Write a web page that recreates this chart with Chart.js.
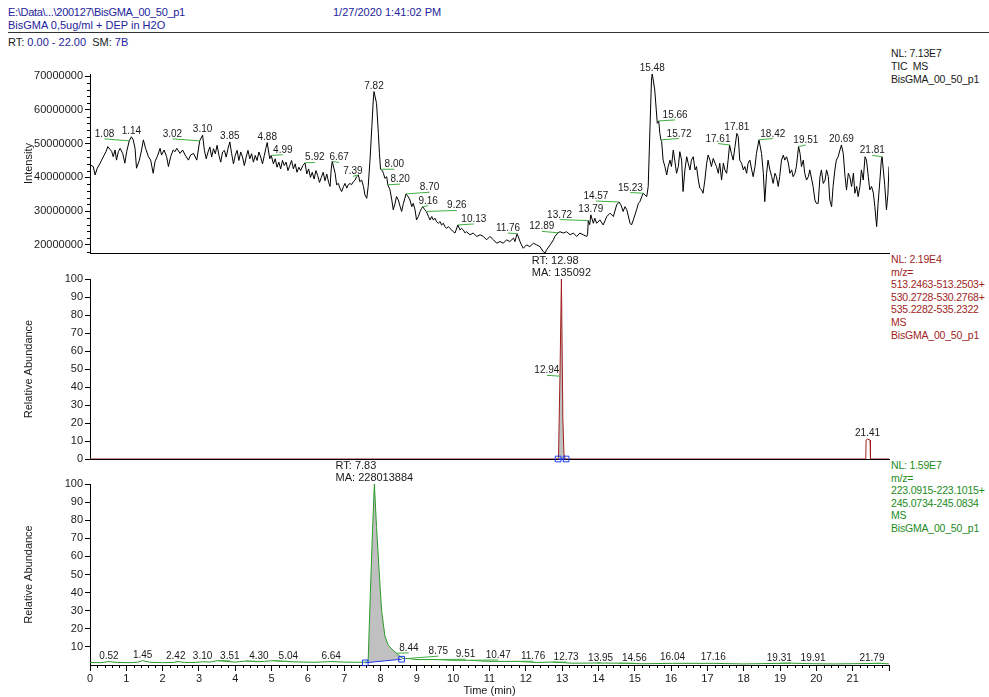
<!DOCTYPE html>
<html>
<head>
<meta charset="utf-8">
<script src="https://cdn.jsdelivr.net/npm/chart.js@4.4.1/dist/chart.umd.min.js"></script>
<style>
  body { margin: 0; background: #fff; font-family: "Liberation Sans", Arial, sans-serif; }
  #wrap { position: relative; width: 989px; height: 697px; overflow: hidden; }
  canvas { position: absolute; left: 0; top: 0; }
  .t { position: absolute; font-size: 11px; line-height: 13px; white-space: pre; }
  .side { font-size: 10.5px; letter-spacing: -0.2px; line-height: 12.6px; }
  .blue { color: #23239b; }
  .red { color: #a01e1e; }
  .green { color: #1c8c1c; }
  .blk { color: #1a1a1a; }
  #rule { position: absolute; left: 8px; top: 32px; width: 981px; border-top: 1px solid #333; }
</style>
</head>
<body>
<div id="wrap">
  <div class="t blue" style="left:8px;top:6px;letter-spacing:-0.3px">E:\Data\...\200127\BisGMA_00_50_p1</div>
  <div class="t blue" style="left:333px;top:6px">1/27/2020 1:41:02 PM</div>
  <div class="t blue" style="left:8px;top:19px">BisGMA 0,5ug/ml + DEP in H2O</div>
  <div id="rule"></div>
  <div class="t blk" style="left:8px;top:36px">RT: <span class="blue">0.00 - 22.00</span>  SM: <span class="blue">7B</span></div>

  <div class="t side blk" style="left:891px;top:47px;line-height:13px">NL: 7.13E7<br>TIC  MS<br>BisGMA_00_50_p1</div>
  <div class="t side red" style="left:891px;top:253px">NL: 2.19E4<br>m/z=<br>513.2463-513.2503+<br>530.2728-530.2768+<br>535.2282-535.2322<br>MS<br>BisGMA_00_50_p1</div>
  <div class="t side green" style="left:891px;top:459px">NL: 1.59E7<br>m/z=<br>223.0915-223.1015+<br>245.0734-245.0834<br>MS<br>BisGMA_00_50_p1</div>

  <canvas id="c1" width="989" height="697"></canvas>
  <canvas id="c2" width="989" height="697"></canvas>
  <canvas id="c3" width="989" height="697"></canvas>
</div>
<script>
// TIC (intensity in millions)
var ticTime = [0.00,0.09,0.14,0.20,0.28,0.32,0.39,0.44,0.49,0.55,0.60,0.64,0.69,0.73,0.78,0.83,0.90,0.96,1.01,1.08,
  1.14,1.19,1.24,1.28,1.36,1.42,1.47,1.53,1.61,1.67,1.74,1.79,1.85,1.93,1.97,2.04,2.11,2.16,2.22,2.29,
  2.34,2.39,2.48,2.55,2.62,2.71,2.77,2.85,2.94,3.02,3.10,3.15,3.20,3.25,3.30,3.35,3.40,3.45,3.50,3.55,
  3.60,3.65,3.70,3.75,3.80,3.85,3.90,3.95,4.00,4.05,4.10,4.15,4.20,4.25,4.30,4.35,4.40,4.45,4.50,4.55,
  4.60,4.65,4.70,4.75,4.80,4.84,4.88,4.92,4.95,4.99,5.05,5.10,5.15,5.20,5.25,5.30,5.35,5.40,5.45,5.50,
  5.55,5.60,5.65,5.70,5.75,5.80,5.86,5.92,5.97,6.02,6.07,6.12,6.17,6.22,6.27,6.32,6.37,6.42,6.47,6.52,
  6.57,6.61,6.64,6.67,6.75,6.79,6.84,6.88,6.93,6.98,7.02,7.07,7.11,7.16,7.20,7.25,7.30,7.34,7.39,7.43,
  7.48,7.53,7.57,7.62,7.66,7.71,7.76,7.80,7.82,7.89,7.94,7.97,8.00,8.05,8.08,8.12,8.17,8.20,8.26,8.31,
  8.35,8.40,8.44,8.49,8.54,8.58,8.63,8.67,8.70,8.76,8.81,8.86,8.90,8.95,8.99,9.04,9.09,9.13,9.16,9.22,
  9.26,9.32,9.36,9.41,9.45,9.50,9.54,9.59,9.64,9.68,9.73,9.77,9.82,9.87,9.91,9.96,10.00,10.05,10.13,10.19,
  10.23,10.28,10.33,10.37,10.46,10.55,10.65,10.74,10.83,10.92,11.01,11.11,11.20,11.29,11.38,11.47,11.56,11.66,11.70,11.76,
  11.79,11.84,11.88,11.93,12.02,12.11,12.21,12.30,12.39,12.48,12.53,12.57,12.67,12.76,12.80,12.89,12.94,13.03,13.12,13.22,
  13.31,13.40,13.49,13.58,13.68,13.70,13.72,13.76,13.79,13.86,13.90,13.95,14.04,14.13,14.23,14.32,14.41,14.50,14.57,14.62,
  14.68,14.73,14.78,14.87,14.91,14.96,15.05,15.10,15.14,15.23,15.28,15.33,15.37,15.42,15.46,15.48,15.55,15.62,15.66,15.69,
  15.72,15.74,15.78,15.83,15.88,15.92,15.97,16.01,16.06,16.10,16.15,16.20,16.24,16.29,16.33,16.38,16.43,16.47,16.52,16.56,
  16.61,16.66,16.70,16.75,16.79,16.84,16.88,16.93,16.98,17.02,17.07,17.11,17.16,17.21,17.25,17.30,17.34,17.39,17.44,17.48,
  17.53,17.57,17.61,17.66,17.71,17.76,17.81,17.85,17.89,17.94,17.99,18.03,18.08,18.12,18.17,18.22,18.26,18.31,18.35,18.42,
  18.49,18.54,18.58,18.63,18.67,18.72,18.77,18.81,18.86,18.90,18.95,18.99,19.04,19.09,19.13,19.18,19.23,19.27,19.32,19.36,
  19.41,19.45,19.51,19.55,19.59,19.64,19.68,19.73,19.78,19.82,19.87,19.91,19.96,20.00,20.05,20.10,20.14,20.19,20.24,20.28,
  20.33,20.37,20.42,20.46,20.51,20.55,20.60,20.65,20.69,20.74,20.79,20.83,20.88,20.92,20.97,21.02,21.06,21.11,21.15,21.20,
  21.24,21.29,21.34,21.38,21.43,21.47,21.52,21.57,21.61,21.66,21.70,21.75,21.79,21.81,21.88,21.93,21.97,22.00];
var ticValue = [43.7,43.2,40.7,42.7,44.2,45.1,46.6,47.6,49.1,48.3,47.6,46.1,48.1,45.1,47.6,48.6,47.1,44.2,47.6,50.8,
  52.0,51.1,48.6,42.7,45.1,48.1,51.1,48.6,46.1,45.1,41.2,44.7,46.1,48.6,46.6,48.1,46.1,43.2,46.1,48.1,
  47.6,48.6,47.1,48.1,46.6,45.1,46.6,47.1,45.1,50.8,52.5,48.0,45.5,47.5,49.0,46.0,48.5,47.0,49.5,46.5,
  44.5,47.5,48.0,46.0,48.5,50.5,47.0,44.0,46.5,48.0,45.0,47.5,46.0,43.5,46.0,48.0,45.5,47.0,44.5,46.5,
  45.0,47.5,46.0,44.0,46.5,48.5,50.3,47.5,45.5,46.5,44.0,45.5,43.0,44.5,42.5,45.0,43.5,44.5,42.0,43.5,
  45.0,42.5,44.0,41.5,43.0,42.0,43.5,44.3,41.0,42.5,40.0,41.5,39.5,42.0,40.5,38.5,40.0,41.5,39.0,41.0,
  38.5,37.3,42.2,44.7,41.2,37.8,38.2,36.8,35.8,37.3,38.2,36.8,37.8,38.2,37.8,38.7,39.2,40.2,40.7,38.7,
  39.2,37.3,34.8,33.8,37.3,45.1,55.0,62.9,65.4,61.9,53.0,47.0,42.4,42.0,41.2,39.7,40.2,37.8,36.3,33.3,
  30.4,32.3,34.3,33.3,31.3,29.9,32.3,33.8,35.1,34.3,33.3,31.3,32.3,30.4,27.4,28.4,29.9,30.8,31.3,30.4,
  29.9,28.4,27.4,28.4,27.4,27.9,26.9,26.4,26.9,25.9,26.4,25.4,24.9,25.4,24.9,24.4,23.9,23.5,25.9,24.4,
  24.9,24.4,23.5,23.9,23.0,23.5,22.5,23.0,22.5,21.5,22.5,21.5,20.5,21.0,20.5,21.5,21.0,22.0,21.0,23.3,
  22.5,21.0,20.0,19.0,20.0,19.5,20.5,20.0,19.5,18.0,17.6,18.5,20.0,21.5,22.5,23.6,23.9,23.5,23.9,23.0,
  23.5,22.5,23.5,23.0,22.5,23.0,27.2,26.0,28.9,26.4,27.9,26.4,27.4,25.9,28.4,29.4,28.4,31.8,32.7,31.8,
  29.9,31.3,30.4,26.4,25.9,27.4,30.4,32.3,32.8,35.3,34.8,34.3,37.3,55.0,68.8,70.7,65.9,56.0,56.7,53.0,
  51.1,50.6,45.1,43.2,40.7,43.2,45.1,43.2,48.1,45.1,41.2,43.2,47.6,45.1,35.8,42.2,46.1,44.2,42.2,45.1,
  46.1,42.2,43.2,39.2,36.8,36.3,35.3,39.2,44.2,46.6,45.1,43.2,45.6,44.2,43.2,41.2,44.2,39.2,44.2,42.2,
  41.2,45.1,49.6,47.1,45.1,49.1,53.0,52.0,45.1,44.2,42.2,43.2,41.2,44.2,45.1,42.2,40.2,43.2,47.1,51.1,
  47.1,41.2,32.8,41.2,45.1,42.2,40.2,38.2,41.2,40.2,37.3,40.2,45.1,46.6,45.1,46.1,44.2,41.2,42.2,40.2,
  41.2,43.2,49.1,47.1,43.2,45.1,41.2,39.2,40.2,42.2,39.5,37.3,33.3,32.3,32.3,40.2,42.2,38.2,39.2,42.2,
  40.2,33.3,31.3,37.3,42.2,45.1,46.1,48.1,49.6,47.1,40.2,36.3,41.2,40.2,37.3,41.2,35.3,37.3,34.3,37.3,
  42.2,39.2,46.1,45.1,40.2,36.3,37.3,35.3,31.3,25.4,32.3,39.2,45.1,46.1,38.0,30.4,35.0,43.2];
var ticYTicks = [20, 30, 40, 50, 60, 70];
var ticYMinor = [18, 22, 24, 26, 28, 32, 34, 36, 38, 42, 44, 46, 48, 52, 54, 56, 58, 62, 64, 66, 68];

// TIC peak labels: retention time, apex intensity, label centre (min), leader end (intensity)
var ticPeakRt = [1.08,1.14,3.02,3.10,3.85,4.88,4.99,5.92,6.67,7.39,7.82,8.00,8.20,8.70,9.16,9.26,10.13,11.76,12.89,13.72,
  13.79,14.57,15.23,15.48,15.66,15.72,17.61,17.81,18.42,19.51,20.69,21.81];
var ticPeakTop = [50.8,52.0,50.8,52.5,50.5,50.3,46.5,44.3,44.7,40.7,65.4,42.4,37.8,35.1,31.3,29.9,25.9,23.3,23.6,27.2,
  28.9,32.7,35.3,70.7,56.7,51.1,49.6,53.0,51.1,49.1,49.6,46.1];
var ticLabelRt = [0.40,1.14,2.27,3.10,3.85,4.88,5.31,6.19,6.86,7.24,7.82,8.38,8.54,9.35,9.31,10.10,10.57,11.51,12.44,12.93,
  13.79,13.93,14.88,15.48,16.11,16.22,17.29,17.81,18.80,19.71,20.69,21.54];
var ticLabelVal = [51.4,52.0,51.4,52.5,50.5,50.3,46.7,44.4,44.4,40.3,65.4,42.4,38.0,35.6,31.6,30.2,26.2,23.5,24.0,27.5,
  28.9,33.0,35.5,70.7,57.0,51.5,50.0,53.0,51.5,49.6,49.6,46.5];

// m/z 513/530/535 trace (relative abundance)
var xic2Time = [0, 12.88, 12.90, 12.94, 12.98, 13.02, 13.05, 13.08, 21.36, 21.37, 21.41, 21.48, 21.49, 22];
var xic2Value = [0, 0, 1, 46, 100, 22, 3, 0, 0, 10.5, 11, 10.5, 0, 0];
var xic2Window = [12.89, 13.11];
var xic2Base = [0, 0];
var xic2PeakRt = [12.94, 21.41];
var xic2PeakTop = [46, 11];
var xic2LabelRt = [12.58, 21.41];
var xic2LabelVal = [46.5, 11];

// m/z 223/245 trace (relative abundance)
var xic3Time = [0.00,0.30,0.52,0.75,1.10,1.30,1.45,1.65,2.00,2.30,2.42,2.60,2.90,3.10,3.30,3.51,3.75,4.00,4.30,4.60,
  4.80,5.04,5.30,5.70,6.20,6.64,7.00,7.40,7.62,7.66,7.72,7.78,7.83,7.89,7.97,8.03,8.12,8.21,8.35,8.44,
  8.54,8.62,8.75,9.00,9.51,10.00,10.47,11.00,11.76,12.30,12.73,13.30,13.95,14.56,15.20,16.04,17.16,18.00,19.31,19.91,
  20.50,21.79,22.00];
var xic3Value = [1.4,1.3,1.9,1.4,1.3,1.5,2.4,1.5,1.3,1.4,1.9,1.4,1.4,1.8,1.6,2.4,2.0,1.6,2.2,1.8,
  2.0,2.4,2.0,1.7,1.5,1.9,1.6,1.5,1.6,3.0,40,75,100,76,49,30,16,11,8,6.5,
  4.6,3.5,3.6,3.0,3.0,2.6,2.6,2.0,2.0,1.4,1.6,1.0,1.1,1.0,0.7,0.9,0.9,0.6,1.0,0.7,
  0.6,0.9,0.6];
var xic3Window = [7.58, 8.58];
var xic3Base = [1.2, 3.2];
var xic3PeakRt = [0.52,1.45,2.42,3.10,3.51,4.30,5.04,6.64,8.44,8.75,9.51,10.47,11.76,12.73,13.95,14.56,16.04,17.16,19.31,19.91,21.79];
var xic3PeakTop = [1.9,2.4,1.9,1.8,2.4,2.2,2.4,1.9,6.5,3.6,3.0,2.6,2.0,1.6,1.1,1.0,0.9,0.9,1.0,0.7,0.9];
var xic3LabelRt = [0.52,1.45,2.36,3.10,3.85,4.65,5.46,6.64,8.78,9.59,10.34,11.24,12.20,13.11,14.06,14.99,16.04,17.16,18.98,19.93,21.53];
var xic3LabelVal = [1.9,2.4,2.1,1.8,2.3,2.0,2.0,1.9,6.7,4.9,3.2,2.8,2.1,1.6,1.3,1.0,0.9,0.9,1.0,0.9,0.9];

var relTicks = [0, 10, 20, 30, 40, 50, 60, 70, 80, 90, 100];
var timeTicks = [0,1,2,3,4,5,6,7,8,9,10,11,12,13,14,15,16,17,18,19,20,21,22];

var FONT = '"Liberation Sans", Arial, sans-serif';
Chart.defaults.font.family = FONT;
Chart.defaults.font.size = 11;
Chart.defaults.color = "#1a1a1a";

function pts(xs, ys) {
  return xs.map(function (x, i) { return { x: x, y: ys[i] }; });
}
function windowPts(xs, ys, w) {
  return pts(xs, ys).filter(function (p) { return p.x >= w[0] && p.x <= w[1]; });
}

var peakLabels = {
  id: "peakLabels",
  afterDatasetsDraw: function (chart) {
    var o = chart.options.plugins.peakLabels;
    if (!o || !o.rt) return;
    var ctx = chart.ctx, xs = chart.scales.x, ys = chart.scales.y;
    ctx.save();
    ctx.font = "10px " + FONT;
    ctx.textAlign = "center";
    ctx.fillStyle = "#1a1a1a";
    o.rt.forEach(function (rt, i) {
      var ax = xs.getPixelForValue(rt), ay = ys.getPixelForValue(o.top[i]);
      var lx = xs.getPixelForValue(o.labelRt[i]), ly = ys.getPixelForValue(o.labelVal[i]);
      if (Math.abs(lx - ax) > 1.5) {
        ctx.strokeStyle = o.lineColor;
        ctx.lineWidth = 1;
        ctx.beginPath();
        ctx.moveTo(ax, ay);
        ctx.lineTo(lx, ly);
        ctx.stroke();
        ctx.fillText(rt.toFixed(2), lx, ly - 2);
      } else {
        ctx.fillText(rt.toFixed(2), ax, ay - 3);
      }
    });
    ctx.restore();
  }
};

var decorations = {
  id: "decorations",
  afterDraw: function (chart) {
    var o = chart.options.plugins.decorations;
    if (!o) return;
    var ctx = chart.ctx, a = chart.chartArea;
    ctx.save();
    ctx.strokeStyle = "#000";
    ctx.lineWidth = 1;
    ctx.beginPath();
    (o.yMinor || []).forEach(function (v) {
      var p = Math.round(chart.scales.y.getPixelForValue(v)) + 0.5;
      ctx.moveTo(a.left - 3, p);
      ctx.lineTo(a.left, p);
    });
    (o.xMinor || []).forEach(function (v) {
      var p = Math.round(chart.scales.x.getPixelForValue(v)) + 0.5;
      ctx.moveTo(p, a.bottom);
      ctx.lineTo(p, a.bottom + 3);
    });
    ctx.stroke();
    ctx.fillStyle = "#1a1a1a";
    ctx.font = "11px " + FONT;
    ctx.textAlign = "center";
    ctx.textBaseline = "middle";
    if (o.yTitle) {
      ctx.save();
      ctx.translate(29, (a.top + a.bottom) / 2);
      ctx.rotate(-Math.PI / 2);
      ctx.fillText(o.yTitle, 0, 0);
      ctx.restore();
    }
    if (o.xTitle) ctx.fillText(o.xTitle, (a.left + a.right) / 2, 691);
    if (o.info) {
      var ax = chart.scales.x.getPixelForValue(o.info.rt);
      var ay = chart.scales.y.getPixelForValue(o.info.top);
      var w = Math.max.apply(null, o.info.lines.map(function (s) { return ctx.measureText(s).width; }));
      ctx.textAlign = "left";
      ctx.textBaseline = "alphabetic";
      var n = o.info.lines.length;
      o.info.lines.forEach(function (s, i) {
        ctx.fillText(s, ax - w / 2, ay - 3 - (n - 1 - i) * 12);
      });
    }
    ctx.restore();
  }
};

function yAxis(min, max, ticks, fmt) {
  return {
    type: "linear", min: min, max: max,
    afterFit: function (s) { s.width = 90; },
    afterBuildTicks: function (s) { s.ticks = ticks.map(function (v) { return { value: v }; }); },
    grid: { drawOnChartArea: false, drawTicks: true, tickLength: 5, tickColor: "#000", color: "#000" },
    border: { display: true, color: "#000", width: 1 },
    ticks: { padding: 2, color: "#1a1a1a", callback: fmt || function (v) { return String(v); } }
  };
}
function xAxis(showTicks) {
  var ax = {
    type: "linear", min: 0, max: 22,
    afterFit: function (s) { s.height = showTicks ? 32 : 0; },
    border: { display: true, color: "#000", width: 1 },
    grid: { drawOnChartArea: false, drawTicks: showTicks, tickLength: 6, tickColor: "#000", color: "#000" },
    ticks: { display: showTicks, padding: 1, color: "#1a1a1a", maxRotation: 0,
      callback: function (v) { return v < 22 ? String(v) : ""; } }
  };
  if (showTicks) ax.afterBuildTicks = function (s) { s.ticks = timeTicks.map(function (v) { return { value: v }; }); };
  return ax;
}
function lineSet(data, color, order) {
  return { data: data, borderColor: color, borderWidth: 1, pointRadius: 0, tension: 0, fill: false, order: order };
}
function baseOpts(pad, scales, plugins) {
  plugins.legend = { display: false };
  plugins.tooltip = { enabled: false };
  return {
    responsive: false, animation: false, events: [],
    layout: { padding: pad },
    scales: scales,
    plugins: plugins
  };
}

var minutesMinor = [];
for (var i = 1; i < 110; i++) if (i % 5) minutesMinor.push(i / 5);

new Chart(document.getElementById("c1"), {
  type: "line",
  data: { datasets: [lineSet(pts(ticTime, ticValue), "#000", 0)] },
  options: baseOpts({ left: 0, right: 100, top: 74, bottom: 444 }, {
    x: xAxis(false),
    y: yAxis(17.6, 70.6, ticYTicks, function (v) { return String(v * 1000000); })
  }, {
    peakLabels: { rt: ticPeakRt, top: ticPeakTop, labelRt: ticLabelRt, labelVal: ticLabelVal, lineColor: "#3fae3f" },
    decorations: { yMinor: ticYMinor, yTitle: "Intensity" }
  }),
  plugins: [peakLabels, decorations]
});

function xicChart(id, pad, xs, ys, win, base, color, peaks, info, showX, yTicks) {
  return new Chart(document.getElementById(id), {
    type: "line",
    data: {
      datasets: [
        lineSet(pts(xs, ys), color, 1),
        { data: windowPts(xs, ys, win), borderWidth: 0, pointRadius: 0, tension: 0,
          backgroundColor: "#c0c0c0", fill: 2, order: 2 },
        { data: pts(win, base), borderColor: "#1f3cf0", borderWidth: 1, tension: 0,
          pointStyle: "rect", pointRadius: 4, pointBorderColor: "#1f3cf0", pointBorderWidth: 1,
          pointBackgroundColor: "rgba(0,0,0,0)", fill: false, order: 0, clip: false }
      ]
    },
    options: baseOpts(pad, {
      x: xAxis(showX),
      y: yAxis(0, 100, yTicks)
    }, {
      peakLabels: peaks,
      decorations: { yTitle: "Relative Abundance", info: info, xMinor: showX ? minutesMinor : null, xTitle: showX ? "Time (min)" : null }
    }),
    plugins: [peakLabels, decorations]
  });
}

xicChart("c2", { left: 0, right: 100, top: 279, bottom: 238 }, xic2Time, xic2Value, xic2Window, xic2Base, "#a01e1e",
  { rt: xic2PeakRt, top: xic2PeakTop, labelRt: xic2LabelRt, labelVal: xic2LabelVal, lineColor: "#3fae3f" },
  { rt: 12.98, top: 100, lines: ["RT: 12.98", "MA: 135092"] }, false, relTicks);

xicChart("c3", { left: 0, right: 100, top: 484, bottom: 0 }, xic3Time, xic3Value, xic3Window, xic3Base, "#2a9a2a",
  { rt: xic3PeakRt, top: xic3PeakTop, labelRt: xic3LabelRt, labelVal: xic3LabelVal, lineColor: "#3fae3f" },
  { rt: 7.83, top: 100, lines: ["RT: 7.83", "MA: 228013884"] }, true, relTicks.slice(1));
</script>
</body>
</html>
